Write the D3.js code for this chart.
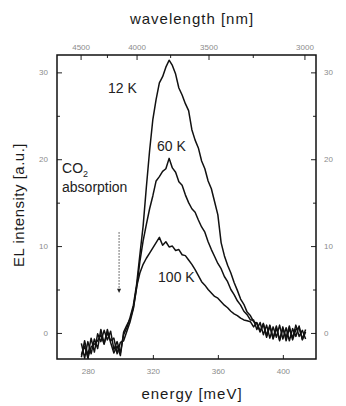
<!DOCTYPE html>
<html>
<head>
<meta charset="utf-8">
<script src="https://cdn.jsdelivr.net/npm/d3@7"></script>
<style>
  body { margin: 0; background: #fff; }
  svg { display: block; }
  text { font-family: "Liberation Sans", Arial, sans-serif; }
</style>
</head>
<body>
<svg id="chart" width="346" height="406"></svg>
<script>
// Photon energy of each sample (meV)
const energy = [
  276,278,280,282,284,286,288,290,292,294,
  296,298,300,302,304,306,308,310,312,314,
  316,318,320,322,324,326,328,330,332,334,
  336,338,340,342,344,346,348,350,352,354,
  356,358,360,362,364,366,368,370,372,374,
  376,378,380,382,384,386,388,390,392,394,
  396,398,400,402,404,406,408,410,412,414
];

// Electroluminescence intensity (a.u.) at three temperatures
const el12K = [
  -2.8,-0.9,-2.6,-0.6,-2.2,-0.1,-1.0,0.3,-0.8,0.2,
  -1.9,-1.0,-2.3,-0.2,0.6,1.8,3.2,5.6,9.0,12.3,
  16.8,21.0,24.6,26.9,28.8,29.5,30.6,31.4,30.8,29.8,
  28.2,27.4,26.4,25.6,23.4,22.2,21.3,19.8,18.9,17.5,
  16.6,15.1,13.6,10.4,8.9,7.8,6.9,5.8,4.9,3.9,
  3.3,2.4,2.0,1.3,1.1,0.1,1.0,-0.5,0.8,-0.7,
  0.6,-0.8,0.7,-0.9,0.5,-0.6,0.9,-0.4,0.3,-0.7
];
const el60K = [
  -1.2,-2.9,-1.0,-2.4,-0.7,-1.8,0.4,-1.2,0.0,-0.9,
  -0.6,-2.4,-1.1,-0.9,0.2,1.3,2.8,5.2,8.2,10.6,
  12.5,14.3,15.8,17.5,18.0,18.6,18.9,20.1,19.0,18.5,
  17.4,17.0,15.9,15.0,14.3,13.9,13.0,12.2,11.6,10.5,
  9.6,8.8,8.0,7.4,6.5,5.9,5.0,4.4,3.7,3.2,
  2.5,2.1,1.5,1.5,0.4,1.2,-0.2,0.9,-0.6,0.7,
  -0.5,0.9,-0.7,0.6,-0.9,0.5,-0.4,0.8,-0.8,0.1
];
const el100K = [
  -2.5,-1.5,-2.9,-1.6,-1.3,-0.9,-0.2,-1.3,0.4,-1.1,
  -2.3,-1.5,-2.6,0.1,0.9,1.6,2.9,5.3,6.9,7.9,
  8.6,9.2,9.8,10.4,11.0,10.1,10.5,9.9,10.0,9.5,
  9.6,9.0,8.9,8.4,7.9,7.3,6.6,5.9,5.5,5.0,
  4.6,4.2,4.0,3.6,3.2,2.9,2.5,2.2,2.0,1.7,
  1.5,1.4,1.3,0.7,1.2,0.2,1.1,-0.3,0.9,-0.6,
  0.8,-0.9,0.5,-0.5,0.8,-0.8,0.4,0.6,-0.7,0.4
];

const curveNames = ["12 K", "60 K", "100 K"];
const energyTicks = [280, 320, 360, 400];
const wavelengthTicks = [4500, 4000, 3500, 3000];
const wavelengthMinor = [4250, 3750, 3250];
const intensityTicks = [0, 10, 20, 30];
const intensityMinor = [5, 15, 25];

// hc in meV·nm, to place wavelength ticks on the energy scale
const HC = 1239842;
const nmToMeV = nm => HC / nm;

const svg = d3.select("#chart");
const frame = { left: 57, right: 316, top: 55, bottom: 359 };

const x = d3.scaleLinear().domain([261, 420.4]).range([frame.left, frame.right]);
const y = d3.scaleLinear().domain([-3, 32]).range([frame.bottom, frame.top]);

const tickColor = "#8c8c8c";

function styleAxis(g) {
  g.select(".domain").remove();
  g.selectAll(".tick line").attr("stroke", "#222").attr("stroke-width", 1);
  g.selectAll(".tick text")
    .attr("fill", tickColor)
    .style("font-size", "8px")
    .style("font-family", '"Liberation Sans", Arial, sans-serif');
}

// Bottom energy axis
svg.append("g")
  .attr("transform", `translate(0,${frame.bottom})`)
  .call(d3.axisBottom(x).tickValues(energyTicks).tickSize(-4).tickPadding(9))
  .call(styleAxis);

// Top wavelength axis
svg.append("g")
  .attr("transform", `translate(0,${frame.top})`)
  .call(d3.axisTop(x).tickValues(wavelengthTicks.map(nmToMeV))
    .tickFormat((d, i) => wavelengthTicks[i]).tickSize(-5).tickPadding(5))
  .call(styleAxis);
svg.append("g")
  .attr("transform", `translate(0,${frame.top})`)
  .call(d3.axisTop(x).tickValues(wavelengthMinor.map(nmToMeV))
    .tickFormat("").tickSize(-3))
  .call(styleAxis);

// Left and right intensity axes
svg.append("g")
  .attr("transform", `translate(${frame.left},0)`)
  .call(d3.axisLeft(y).tickValues(intensityTicks).tickSize(-5).tickPadding(9))
  .call(styleAxis);
svg.append("g")
  .attr("transform", `translate(${frame.left},0)`)
  .call(d3.axisLeft(y).tickValues(intensityMinor).tickFormat("").tickSize(-3))
  .call(styleAxis);
svg.append("g")
  .attr("transform", `translate(${frame.right},0)`)
  .call(d3.axisRight(y).tickValues(intensityTicks).tickSize(-5).tickPadding(8))
  .call(styleAxis);
svg.append("g")
  .attr("transform", `translate(${frame.right},0)`)
  .call(d3.axisRight(y).tickValues(intensityMinor).tickFormat("").tickSize(-3))
  .call(styleAxis);

// Plot frame
svg.append("rect")
  .attr("x", frame.left).attr("y", frame.top)
  .attr("width", frame.right - frame.left)
  .attr("height", frame.bottom - frame.top)
  .attr("fill", "none").attr("stroke", "#111").attr("stroke-width", 1.5);

// Spectra
const line = d3.line()
  .x((d, i) => x(energy[i]))
  .y(d => y(d));

[el12K, el60K, el100K].forEach(series => {
  svg.append("path")
    .datum(series)
    .attr("d", line)
    .attr("fill", "none")
    .attr("stroke", "#111")
    .attr("stroke-width", 1.5)
    .attr("stroke-linejoin", "round");
});

// Temperature labels
const labelStyle = s => s.attr("fill", "#222").style("font-size", "14px");
svg.append("text").attr("x", x(292.4)).attr("y", y(27.6)).text(curveNames[0]).call(labelStyle);
svg.append("text").attr("x", x(322.5)).attr("y", y(21.0)).text(curveNames[1]).call(labelStyle);
svg.append("text").attr("x", x(323.2)).attr("y", y(5.9)).text(curveNames[2]).call(labelStyle);

// CO2 absorption annotation
const co2 = svg.append("text").attr("x", x(264.1)).attr("y", y(18.4))
  .attr("fill", "#222").style("font-size", "14px");
co2.append("tspan").text("CO");
co2.append("tspan").attr("dy", 4).style("font-size", "9px").text("2");
svg.append("text").attr("x", x(264.1)).attr("y", y(16.2))
  .attr("fill", "#222").style("font-size", "14px").text("absorption");

const arrowX = x(299.2);
svg.append("line")
  .attr("x1", arrowX).attr("x2", arrowX)
  .attr("y1", y(11.6)).attr("y2", y(5.0))
  .attr("stroke", "#333").attr("stroke-width", 0.9)
  .attr("stroke-dasharray", "1.5,1.5");
svg.append("path")
  .attr("d", `M${arrowX - 2},${y(5.1)} L${arrowX + 2},${y(5.1)} L${arrowX},${y(4.6)} Z`)
  .attr("fill", "#222");

// Axis titles
svg.append("text")
  .attr("x", 192).attr("y", 24)
  .attr("text-anchor", "middle")
  .attr("fill", "#1a1a1a")
  .style("font-size", "15px").style("letter-spacing", "1px")
  .text("wavelength [nm]");
svg.append("text")
  .attr("x", 192).attr("y", 399)
  .attr("text-anchor", "middle")
  .attr("fill", "#1a1a1a")
  .style("font-size", "15px").style("letter-spacing", "1px")
  .text("energy [meV]");
svg.append("text")
  .attr("transform", "translate(24,205) rotate(-90)")
  .attr("text-anchor", "middle")
  .attr("fill", "#1a1a1a")
  .style("font-size", "15px").style("letter-spacing", "0.5px")
  .text("EL intensity [a.u.]");
</script>
</body>
</html>
